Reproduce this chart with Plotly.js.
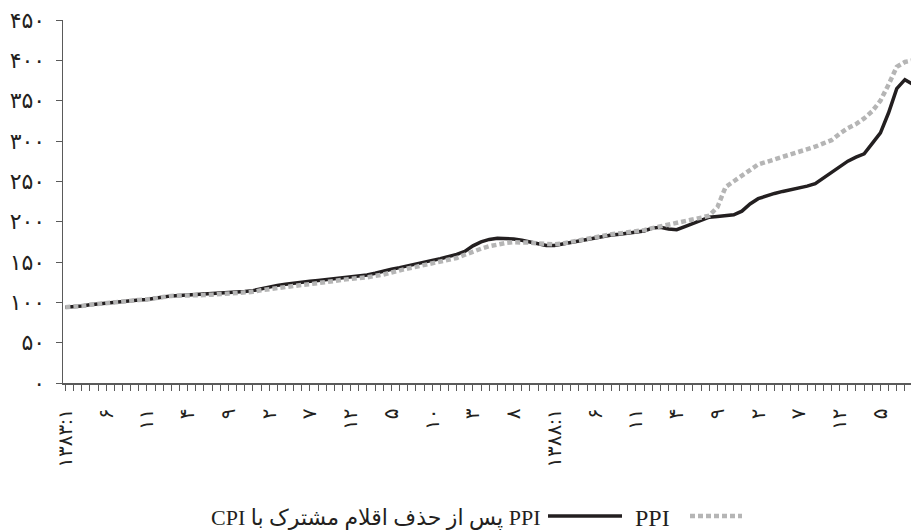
<!DOCTYPE html>
<html>
<head>
<meta charset="utf-8">
<script src="https://cdn.plot.ly/plotly-3.0.1.min.js"></script>
<style>html,body{margin:0;padding:0;background:#fff;}#chart{width:911px;height:530px;}</style>
</head>
<body>
<div id="chart"></div>
<script>
// Monthly index, 1383:1 onward (one value per month)
const ppi = [94, 94.5, 95.5, 97, 98, 99, 100.5, 102, 102.5, 103,
  103.5, 104.5, 106.5, 108, 108, 108, 108.5, 109, 109.5, 110,
  111, 112, 112.5, 113, 115, 116.5, 118, 119.5, 120.5, 121.5,
  122.5, 123.5, 125, 126.5, 128, 129.5, 130, 131, 132.5, 134.5,
  137, 140, 142, 144, 146, 148, 150, 152.5, 155, 159,
  163, 166.5, 169.5, 172, 173.5, 174.5, 174.5, 174, 173, 172,
  172, 173, 175, 177.5, 179.5, 181, 183, 184.5, 185.5, 186.5,
  188, 189.5, 192, 194, 196.5, 198, 200.5, 203, 205, 207.5,
  218, 243, 250, 257, 265, 271, 274, 277, 280, 283,
  286, 289, 293, 297, 301, 309, 316, 321, 328, 337,
  350, 370, 392, 398, 400];

const ppiExcl = [94, 94.5, 95.5, 97, 98, 99, 100.5, 102, 102.5, 103,
  103.5, 104.5, 106.5, 108, 108.5, 109, 109.5, 110, 110.5, 111,
  112, 113, 113.5, 114.5, 117, 119, 121, 122.5, 124, 125,
  126, 127, 128, 129, 130, 131, 132.5, 134, 136, 139,
  141, 143, 145.5, 148, 150, 152, 154, 156.5, 159.5, 163,
  170, 175, 178, 179.5, 179.5, 178.5, 177, 175, 172.5, 170.5,
  170.5, 172, 173.5, 176, 178, 180, 182, 183.5, 184.5, 185.5,
  187, 188.5, 192, 193, 191, 190, 194, 198, 202, 205.5,
  206.5, 207, 208.5, 213, 222, 228.5, 232, 235, 237.5, 239.5,
  241, 244, 247, 254, 262, 269, 275, 280, 284, 297,
  310, 335, 365, 376, 370];

// x tick labels, one every five months
const xTickLabels = ['۱۳۸۳:۱','۶','۱۱','۴','۹','۲','۷','۱۲','۵','۱۰','۳','۸',
  '۱۳۸۸:۱','۶','۱۱','۴','۹','۲','۷','۱۲','۵'];
const yTickValues = [0, 50, 100, 150, 200, 250, 300, 350, 400, 450];
const yTickLabels = ['۰','۵۰','۱۰۰','۱۵۰','۲۰۰','۲۵۰','۳۰۰','۳۵۰','۴۰۰','۴۵۰'];
const seriesNames = ['PPI', 'PPI پس از حذف اقلام مشترک با CPI'];

const labelStep = 5;
const idx = ppi.map((_, i) => i);
const tickvals = idx;
const ticktext = idx.map(i => (i % labelStep === 0 && xTickLabels[i / labelStep]) ? xTickLabels[i / labelStep] : '');

const FONT = 'Liberation Serif, DejaVu Sans, serif';
const axisCol = '#5a5a5a';

const traces = [
  {x: idx, y: ppiExcl, type: 'scatter', mode: 'lines', name: seriesNames[1],
   line: {color: '#231f20', width: 3.5}, showlegend: false},
  {x: idx, y: ppi, type: 'scatter', mode: 'lines', name: seriesNames[0],
   line: {color: '#b5b5b5', width: 4.5, dash: '5px,3px'}, showlegend: false}
];

const W = 848, H = 363, L = 63, T = 20;
const px = v => (v - L) / W;
const py = v => (T + H - v) / H;

const layout = {
  width: 911, height: 530,
  margin: {l: L, r: 0, t: T, b: 147},
  paper_bgcolor: '#fff', plot_bgcolor: '#fff',
  font: {family: FONT, color: '#231f20'},
  showlegend: false,
  xaxis: {
    range: [-0.3, 103.75], tickmode: 'array', tickvals: tickvals, ticktext: ticktext,
    tickangle: -90, ticks: 'outside', ticklen: 6, tickwidth: 1, tickcolor: axisCol,
    showline: true, linecolor: axisCol, linewidth: 1.5, showgrid: false, zeroline: false,
    ticklabelstandoff: 10,
    tickfont: {family: FONT, size: 20, color: '#231f20'}, fixedrange: true
  },
  yaxis: {
    range: [0, 450], tickmode: 'array', tickvals: yTickValues, ticktext: yTickLabels,
    ticks: 'outside', ticklen: 6, tickwidth: 1, tickcolor: axisCol,
    showline: true, linecolor: axisCol, linewidth: 1.5, showgrid: false, zeroline: false,
    ticklabelstandoff: 6,
    tickfont: {family: FONT, size: 22, color: '#231f20'}, fixedrange: true
  },
  annotations: [
    {xref: 'paper', yref: 'paper', x: px(543), y: py(518), xanchor: 'right', yanchor: 'middle',
     text: '\u202B' + seriesNames[1] + '\u202C', showarrow: false,
     font: {family: FONT, size: 22, color: '#231f20'}},
    {xref: 'paper', yref: 'paper', x: px(633), y: py(518), xanchor: 'left', yanchor: 'middle',
     text: seriesNames[0], showarrow: false,
     font: {family: FONT, size: 24, color: '#231f20'}}
  ],
  shapes: [
    {type: 'line', xref: 'paper', yref: 'paper', x0: px(548), x1: px(622), y0: py(516), y1: py(516),
     line: {color: '#231f20', width: 3.5}},
    {type: 'line', xref: 'paper', yref: 'paper', x0: px(690), x1: px(742), y0: py(516), y1: py(516),
     line: {color: '#b5b5b5', width: 4.5, dash: '5px,3px'}}
  ]
};

Plotly.newPlot('chart', traces, layout, {staticPlot: true, displayModeBar: false});
</script>
</body>
</html>
